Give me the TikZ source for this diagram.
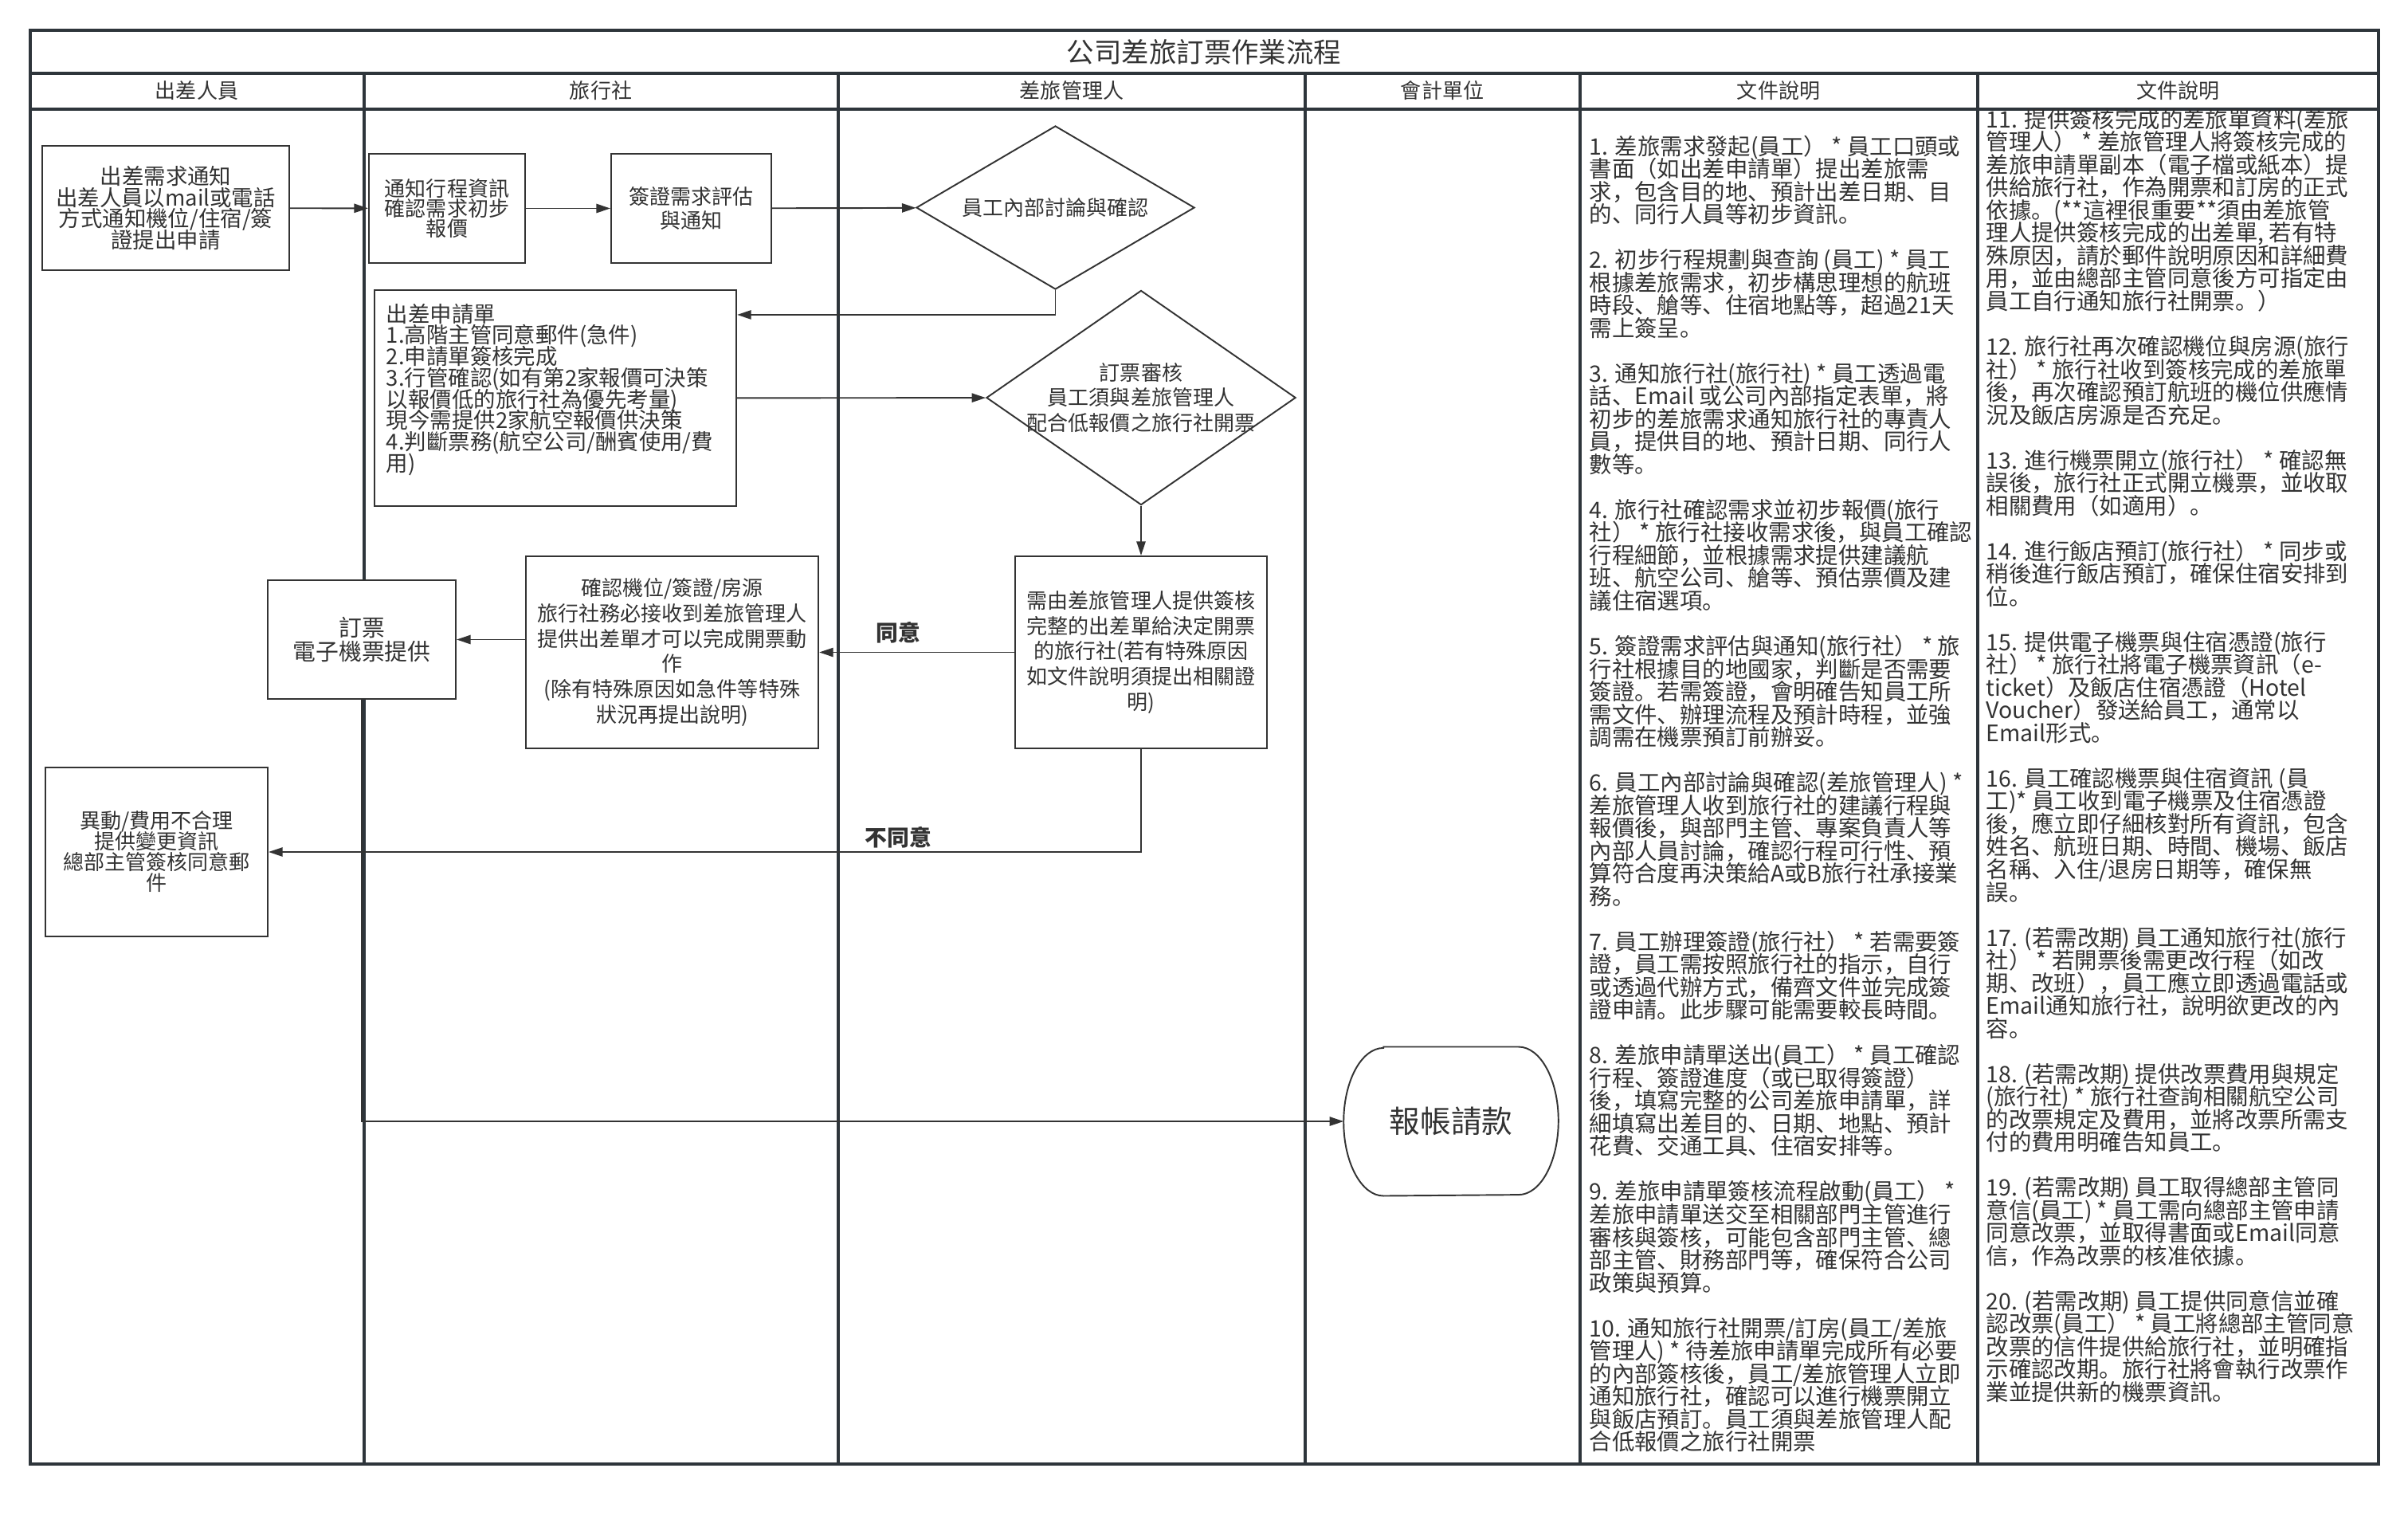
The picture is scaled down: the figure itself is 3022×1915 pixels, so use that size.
\documentclass[tikz,border=0pt]{standalone}
\usepackage{fontspec}
\setmainfont{Noto Sans CJK SC}
\usepackage{xcolor}
\usepackage{tikz}
\usetikzlibrary{shapes.geometric, arrows.meta, positioning, calc}
\definecolor{lanecol}{HTML}{2E353B}
\definecolor{linecol}{HTML}{333333}
\definecolor{inkcol}{HTML}{333333}
\setlength{\lineskiplimit}{-\maxdimen}
\setlength{\normallineskiplimit}{-\maxdimen}

\begin{document}
\begin{tikzpicture}[
  x=0.01cm, y=-0.01cm,
  every node/.style={text=inkcol},
  lane/.style={draw=lanecol, line width=1.1pt},
  head/.style={font=\fontsize{7.4pt}{8pt}\selectfont},
  ttl/.style={font=\fontsize{9.8pt}{11pt}\selectfont},
  proc/.style={rectangle, draw=linecol, line width=0.55pt, fill=white, align=center,
               inner sep=0pt, font=\fontsize{7.4pt}{#1}\selectfont},
  proc/.default=8pt,
  dec/.style={diamond, draw=linecol, line width=0.55pt, fill=white, align=center,
              inner xsep=-0.6cm, inner ysep=-0.2cm, font=\fontsize{7.4pt}{#1}\selectfont},
  dec/.default=8pt,
  term/.style={rectangle, align=center, font=\fontsize{11pt}{12pt}\selectfont},
  arr/.style={draw=linecol, line width=0.55pt, -{Triangle[length=5pt, width=3.2pt]}},
  lbl/.style={font=\fontsize{7.9pt}{9pt}\selectfont\bfseries, inner sep=0pt},
  desc/.style={anchor=north west, align=left, inner sep=0pt,
               font=\fontsize{8.08pt}{8.11pt}\selectfont},
]
  \useasboundingbox (0,0) rectangle (3022,1915);

  \draw[lane] (38,38) rectangle (2985,1837);
  \draw[lane] (38,92) -- (2985,92);
  \draw[lane] (38,137) -- (2985,137);
  \draw[lane] (457,92) -- (457,1837);
  \draw[lane] (1052,92) -- (1052,1837);
  \draw[lane] (1638,92) -- (1638,1837);
  \draw[lane] (1983,92) -- (1983,1837);
  \draw[lane] (2482,92) -- (2482,1837);

  \node[ttl] (title) at (1511,65) {公司差旅訂票作業流程};
  \node[head] (lane-emp) at (247,114) {出差人員};
  \node[head] (lane-agency) at (754,114) {旅行社};
  \node[head] (lane-mgr) at (1345,114) {差旅管理人};
  \node[head] (lane-acct) at (1810,114) {會計單位};
  \node[head] (lane-doc1) at (2232,114) {文件說明};
  \node[head] (lane-doc2) at (2733,114) {文件說明};

  \node[proc, font=\fontsize{7.8pt}{7.65pt}\selectfont, minimum width=3.10cm, minimum height=1.56cm]
    (request) at (208,261)
    {出差需求通知\\出差人員以mail或電話\\方式通知機位/住宿/簽\\證提出申請};
  \node[proc=7.1pt, minimum width=1.96cm, minimum height=1.37cm] (quote) at (561,261.5)
    {通知行程資訊\\確認需求初步\\報價};
  \node[proc=8.5pt, minimum width=2.01cm, minimum height=1.37cm] (visa) at (867.5,261.5)
    {簽證需求評估\\與通知};
  \node[dec, minimum width=3.49cm, minimum height=2.05cm] (discuss) at (1324.5,260.5)
    {員工內部討論與確認};
  \node[proc, font=\fontsize{7.8pt}{7.6pt}\selectfont, minimum width=4.54cm, minimum height=2.71cm,
        text width=4.24cm, align=left] (form) at (697,499.5)
    {出差申請單\\1.高階主管同意郵件(急件)\\2.申請單簽核完成\\3.行管確認(如有第2家報價可決策\\以報價低的旅行社為優先考量)\\現今需提供2家航空報價供決策\\4.判斷票務(航空公司/酬賓使用/費\\用)\\\mbox{}};
  \node[dec=8.9pt, minimum width=3.88cm, minimum height=2.69cm] (audit) at (1432,499)
    {訂票審核\\員工須與差旅管理人\\配合低報價之旅行社開票};
  \node[proc=9pt, minimum width=3.16cm, minimum height=2.41cm] (check) at (1432,818.5)
    {需由差旅管理人提供簽核\\完整的出差單給決定開票\\的旅行社(若有特殊原因\\如文件說明須提出相關證\\明)};
  \node[proc=9pt, minimum width=3.67cm, minimum height=2.41cm] (confirm) at (843.5,818.5)
    {確認機位/簽證/房源\\旅行社務必接收到差旅管理人\\提供出差單才可以完成開票動\\作\\(除有特殊原因如急件等特殊\\狀況再提出說明)};
  \node[proc, font=\fontsize{8.2pt}{8.5pt}\selectfont, minimum width=2.36cm, minimum height=1.49cm]
    (ticket) at (454,802.5) {訂票\\電子機票提供};
  \node[proc=7.4pt, minimum width=2.79cm, minimum height=2.12cm] (change) at (196.5,1069)
    {異動/費用不合理\\提供變更資訊\\總部主管簽核同意郵\\件};
  \node[term, minimum width=2.68cm, minimum height=1.855cm] (claim) at (1821,1407) {報帳請款};
  \draw[linecol, line width=0.55pt] ([xshift=0.5cm]claim.north west) -- ([xshift=-0.5cm]claim.north east)
    arc[start angle=90, end angle=-90, x radius=0.5cm, y radius=0.9275cm]
    -- ([xshift=0.5cm]claim.south west)
    arc[start angle=270, end angle=90, x radius=0.5cm, y radius=0.9275cm] -- cycle;

  \draw[arr] (request) -- (quote);
  \draw[arr] (quote) -- (visa);
  \draw[arr] (visa) -- (discuss);
  \draw[arr] (discuss.south) |- ($(form.north east)+(0,32)$);
  \draw[arr] (form) -- (audit);
  \draw[arr] (audit) -- (check);
  \draw[arr] (check) -- node[lbl, above=0.1cm, pos=0.595]{同意} (confirm);
  \draw[arr] (confirm.west |- ticket.east) -- (ticket.east);
  \draw[arr] (check.south) |- node[lbl, above=0.04cm, pos=0.639]{不同意} (change.east);
  \draw[arr] (ticket.south) |- (claim.west);

  \node[desc] (notes-a) at (1994,169) {1. 差旅需求發起(員工） * 員工口頭或\\
書面（如出差申請單）提出差旅需\\
求，包含目的地、預計出差日期、目\\
的、同行人員等初步資訊。\\[8.11pt]
2. 初步行程規劃與查詢 (員工) * 員工\\
根據差旅需求，初步構思理想的航班\\
時段、艙等、住宿地點等，超過21天\\
需上簽呈。\\[8.11pt]
3. 通知旅行社(旅行社) * 員工透過電\\
話、Email 或公司內部指定表單，將\\
初步的差旅需求通知旅行社的專責人\\
員，提供目的地、預計日期、同行人\\
數等。\\[8.11pt]
4. 旅行社確認需求並初步報價(旅行\\
社） * 旅行社接收需求後，與員工確認\\
行程細節，並根據需求提供建議航\\
班、航空公司、艙等、預估票價及建\\
議住宿選項。\\[8.11pt]
5. 簽證需求評估與通知(旅行社） * 旅\\
行社根據目的地國家，判斷是否需要\\
簽證。若需簽證，會明確告知員工所\\
需文件、辦理流程及預計時程，並強\\
調需在機票預訂前辦妥。\\[8.11pt]
6. 員工內部討論與確認(差旅管理人) *\\
差旅管理人收到旅行社的建議行程與\\
報價後，與部門主管、專案負責人等\\
內部人員討論，確認行程可行性、預\\
算符合度再決策給A或B旅行社承接業\\
務。\\[8.11pt]
7. 員工辦理簽證(旅行社） * 若需要簽\\
證，員工需按照旅行社的指示，自行\\
或透過代辦方式，備齊文件並完成簽\\
證申請。此步驟可能需要較長時間。\\[8.11pt]
8. 差旅申請單送出(員工） * 員工確認\\
行程、簽證進度（或已取得簽證）\\
後，填寫完整的公司差旅申請單，詳\\
細填寫出差目的、日期、地點、預計\\
花費、交通工具、住宿安排等。\\[8.11pt]
9. 差旅申請單簽核流程啟動(員工） *\\
差旅申請單送交至相關部門主管進行\\
審核與簽核，可能包含部門主管、總\\
部主管、財務部門等，確保符合公司\\
政策與預算。\\[8.11pt]
10. 通知旅行社開票/訂房(員工/差旅\\
管理人) * 待差旅申請單完成所有必要\\
的內部簽核後，員工/差旅管理人立即\\
通知旅行社，確認可以進行機票開立\\
與飯店預訂。員工須與差旅管理人配\\
合低報價之旅行社開票};

  \node[desc] (notes-b) at (2492,135.5) {11. 提供簽核完成的差旅單資料(差旅\\
管理人） * 差旅管理人將簽核完成的\\
差旅申請單副本（電子檔或紙本）提\\
供給旅行社，作為開票和訂房的正式\\
依據。(**這裡很重要**須由差旅管\\
理人提供簽核完成的出差單, 若有特\\
殊原因，請於郵件說明原因和詳細費\\
用，並由總部主管同意後方可指定由\\
員工自行通知旅行社開票。）\\[8.11pt]
12. 旅行社再次確認機位與房源(旅行\\
社） * 旅行社收到簽核完成的差旅單\\
後，再次確認預訂航班的機位供應情\\
況及飯店房源是否充足。\\[8.11pt]
13. 進行機票開立(旅行社） * 確認無\\
誤後，旅行社正式開立機票，並收取\\
相關費用（如適用）。\\[8.11pt]
14. 進行飯店預訂(旅行社） * 同步或\\
稍後進行飯店預訂，確保住宿安排到\\
位。\\[8.11pt]
15. 提供電子機票與住宿憑證(旅行\\
社） * 旅行社將電子機票資訊（e-\\
ticket）及飯店住宿憑證（Hotel\\
Voucher）發送給員工，通常以\\
Email形式。\\[8.11pt]
16. 員工確認機票與住宿資訊 (員\\
工)* 員工收到電子機票及住宿憑證\\
後，應立即仔細核對所有資訊，包含\\
姓名、航班日期、時間、機場、飯店\\
名稱、入住/退房日期等，確保無\\
誤。\\[8.11pt]
17. (若需改期) 員工通知旅行社(旅行\\
社） * 若開票後需更改行程（如改\\
期、改班），員工應立即透過電話或\\
Email通知旅行社，說明欲更改的內\\
容。\\[8.11pt]
18. (若需改期) 提供改票費用與規定\\
(旅行社) * 旅行社查詢相關航空公司\\
的改票規定及費用，並將改票所需支\\
付的費用明確告知員工。\\[8.11pt]
19. (若需改期) 員工取得總部主管同\\
意信(員工) * 員工需向總部主管申請\\
同意改票，並取得書面或Email同意\\
信，作為改票的核准依據。\\[8.11pt]
20. (若需改期) 員工提供同意信並確\\
認改票(員工） * 員工將總部主管同意\\
改票的信件提供給旅行社，並明確指\\
示確認改期。旅行社將會執行改票作\\
業並提供新的機票資訊。};
\end{tikzpicture}
\end{document}
